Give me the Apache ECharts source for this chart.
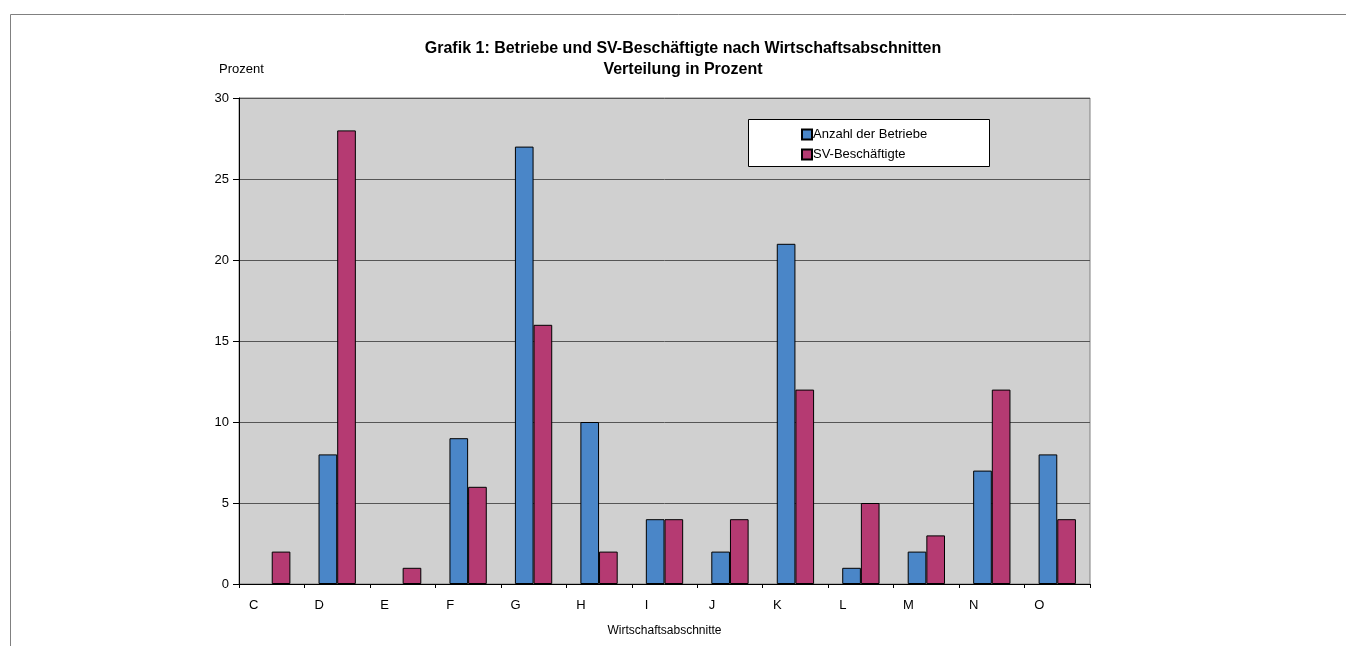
<!DOCTYPE html>
<html>
<head>
<meta charset="utf-8">
<script src="https://cdn.jsdelivr.net/npm/echarts@6/dist/echarts.min.js"></script>
<style>
  html, body { margin: 0; padding: 0; background: #ffffff; }
  #chart { width: 1346px; height: 646px; }
</style>
</head>
<body>
<div id="chart"></div>
<script>
// Wirtschaftsabschnitte (sections of the economy)
const categories = ['C', 'D', 'E', 'F', 'G', 'H', 'I', 'J', 'K', 'L', 'M', 'N', 'O'];
// Share of establishments, percent
const betriebe = [0, 8, 0, 9, 27, 10, 4, 2, 21, 1, 2, 7, 8];
// Share of employees subject to social insurance, percent
const beschaeftigte = [2, 28, 1, 6, 16, 2, 4, 4, 12, 5, 3, 12, 4];
const yTicks = { min: 0, max: 30, interval: 5 };

const FONT = '"Liberation Sans", Arial, sans-serif';
const chart = echarts.init(document.getElementById('chart'), null, { renderer: 'canvas' });

// zero-height bars get no outline, so nothing shows on the axis
const toItems = vals => vals.map(v => v === 0 ? { value: v, itemStyle: { borderWidth: 0 } } : v);

chart.setOption({
  backgroundColor: '#ffffff',
  animation: false,
  title: {
    text: 'Grafik 1: Betriebe und SV-Beschäftigte nach Wirtschaftsabschnitten\nVerteilung in Prozent',
    left: 678,
    textAlign: 'center',
    top: 33,
    textStyle: { fontFamily: FONT, fontSize: 16, fontWeight: 'bold', color: '#000', lineHeight: 21 }
  },
  legend: {
    orient: 'vertical',
    left: 801,
    top: 128,
    icon: 'rect',
    itemWidth: 10,
    itemHeight: 10,
    itemGap: 7,
    padding: 0,
    textStyle: { fontFamily: FONT, fontSize: 13, color: '#000', padding: [0, 0, 0, -4] }
  },
  grid: {
    left: 239, top: 98, width: 851, height: 486,
    show: true, backgroundColor: '#d0d0d0', borderColor: '#808080', borderWidth: 1
  },
  xAxis: {
    type: 'category',
    data: categories,
    name: 'Wirtschaftsabschnitte',
    nameLocation: 'middle',
    nameGap: 41,
    nameTextStyle: { fontFamily: FONT, fontSize: 12, color: '#000' },
    axisLine: { lineStyle: { color: '#000', width: 1 } },
    axisTick: { show: true, length: 4, lineStyle: { color: '#000' } },
    axisLabel: { fontFamily: FONT, fontSize: 13, color: '#000', margin: 15, padding: [0, 36, 0, 0] },
    splitLine: { show: false }
  },
  yAxis: {
    type: 'value',
    min: yTicks.min, max: yTicks.max, interval: yTicks.interval,
    name: 'Prozent',
    nameLocation: 'end',
    nameGap: 22,
    nameTextStyle: { fontFamily: FONT, fontSize: 13, color: '#000', align: 'left', padding: [0, 0, 0, -20] },
    axisLine: { show: true, lineStyle: { color: '#000', width: 1 } },
    axisTick: { show: true, length: 6, lineStyle: { color: '#000' } },
    axisLabel: { fontFamily: FONT, fontSize: 13, color: '#000', margin: 10 },
    splitLine: { show: true, lineStyle: { color: '#555', width: 1 } }
  },
  series: [
    {
      name: 'Anzahl der Betriebe',
      type: 'bar',
      data: toItems(betriebe),
      barGap: '0%',
      barCategoryGap: '43%',
      itemStyle: { color: '#4a86c8', borderColor: '#000', borderWidth: 1 }
    },
    {
      name: 'SV-Beschäftigte',
      type: 'bar',
      data: toItems(beschaeftigte),
      barGap: '0%',
      barCategoryGap: '43%',
      itemStyle: { color: '#b53a72', borderColor: '#000', borderWidth: 1 }
    }
  ],
  graphic: [
    // outer frame of the chart sheet
    { type: 'line', shape: { x1: 10.5, y1: 14.5, x2: 1346, y2: 14.5 }, style: { stroke: '#808080', lineWidth: 1 } },
    { type: 'line', shape: { x1: 10.5, y1: 14.5, x2: 10.5, y2: 646 }, style: { stroke: '#808080', lineWidth: 1 } },
    // legend box
    { type: 'rect', z: 0, shape: { x: 748.5, y: 119.5, width: 241, height: 47 }, style: { fill: '#ffffff', stroke: '#000', lineWidth: 1 } }
  ]
});
</script>
</body>
</html>
